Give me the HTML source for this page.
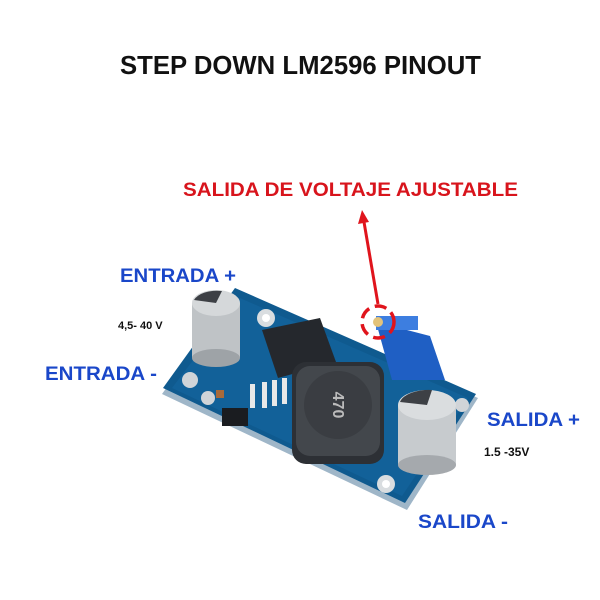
<!DOCTYPE html>
<html><head><style>
body{margin:0;background:#fff;}
svg{display:block}
text{font-family:"Liberation Sans",sans-serif;font-weight:bold}
</style></head><body>
<svg width="600" height="600" viewBox="0 0 600 600">
<rect width="600" height="600" fill="#fff"/>
<text x="120" y="74" font-size="26" textLength="361" lengthAdjust="spacingAndGlyphs" fill="#111">STEP DOWN LM2596 PINOUT</text>
<text x="183" y="196" font-size="19" textLength="335" lengthAdjust="spacingAndGlyphs" fill="#d8141c">SALIDA DE VOLTAJE AJUSTABLE</text>
<text x="120" y="282" font-size="19" textLength="116" lengthAdjust="spacingAndGlyphs" fill="#1a47c9">ENTRADA +</text>
<text x="118" y="329" font-size="11" fill="#111" font-weight="normal">4,5- 40 V</text>
<text x="45" y="380" font-size="19" textLength="112" lengthAdjust="spacingAndGlyphs" fill="#1a47c9">ENTRADA -</text>
<text x="487" y="426" font-size="19" textLength="93" lengthAdjust="spacingAndGlyphs" fill="#1a47c9">SALIDA +</text>
<text x="484" y="456" font-size="12" fill="#111">1.5 -35V</text>
<text x="418" y="528" font-size="19" textLength="90" lengthAdjust="spacingAndGlyphs" fill="#1a47c9">SALIDA -</text>
<!-- board -->
<polygon points="235,292 478,398 407,510 162,394" fill="#9fb6c8"/>
<polygon points="235,288 476,394 405,503 163,388" fill="#0f5a8f"/>
<polygon points="240,298 468,398 402,496 172,388" fill="#1466a0" opacity="0.6"/>
<circle cx="266" cy="318" r="9" fill="#d9dde0"/><circle cx="266" cy="318" r="4" fill="#fff"/>
<circle cx="190" cy="380" r="8" fill="#d0d4d8"/>
<circle cx="208" cy="398" r="7" fill="#d0d4d8"/>
<circle cx="386" cy="484" r="9" fill="#d9dde0"/><circle cx="386" cy="484" r="4" fill="#fff"/>
<circle cx="462" cy="405" r="7" fill="#d0d4d8"/>
<!-- left capacitor -->
<rect x="192" y="303" width="48" height="55" fill="#bfc3c6"/>
<ellipse cx="216" cy="358" rx="24" ry="9" fill="#9ea3a7"/>
<ellipse cx="216" cy="303" rx="24" ry="13" fill="#d5d8da"/>
<path d="M194 300 A24 13 0 0 1 222 291 L216 303 Z" fill="#3d4045"/>
<!-- IC -->
<polygon points="262,330 320,318 336,362 278,378" fill="#25282d"/>
<g fill="#e8e8e8"><rect x="262" y="382" width="5" height="26"/><rect x="272" y="380" width="5" height="26"/><rect x="282" y="378" width="5" height="26"/><rect x="292" y="376" width="5" height="26"/><rect x="250" y="384" width="5" height="24"/></g>
<rect x="222" y="408" width="26" height="18" fill="#1a1c20"/>
<rect x="216" y="390" width="8" height="8" fill="#a86a3a"/>
<!-- inductor -->
<rect x="292" y="362" width="92" height="102" rx="14" fill="#2d3035"/>
<rect x="296" y="366" width="84" height="90" rx="14" fill="#43474c"/>
<circle cx="338" cy="405" r="34" fill="#3a3d42"/>
<text x="338" y="410" font-size="16" fill="#bbb" text-anchor="middle" font-weight="normal" transform="rotate(90 338 405)">470</text>
<!-- potentiometer -->
<polygon points="376,322 430,336 445,380 392,380" fill="#1f5fc4"/>
<rect x="376" y="316" width="42" height="14" fill="#3d7ee0"/>
<circle cx="378" cy="322" r="5" fill="#e3c37a"/>
<circle cx="378" cy="322" r="16" fill="none" stroke="#e0141c" stroke-width="3.5" stroke-dasharray="12 6"/>
<line x1="378" y1="304" x2="364" y2="222" stroke="#e0141c" stroke-width="3"/>
<polygon points="358,224 362,210 369,222" fill="#e0141c"/>
<!-- right capacitor -->
<rect x="398" y="405" width="58" height="60" fill="#c7cbce"/>
<ellipse cx="427" cy="465" rx="29" ry="10" fill="#a5a9ad"/>
<ellipse cx="427" cy="405" rx="29" ry="15" fill="#dadddf"/>
<path d="M400 402 A29 15 0 0 1 432 390 L427 405 Z" fill="#3d4045"/>
</svg>
</body></html>
